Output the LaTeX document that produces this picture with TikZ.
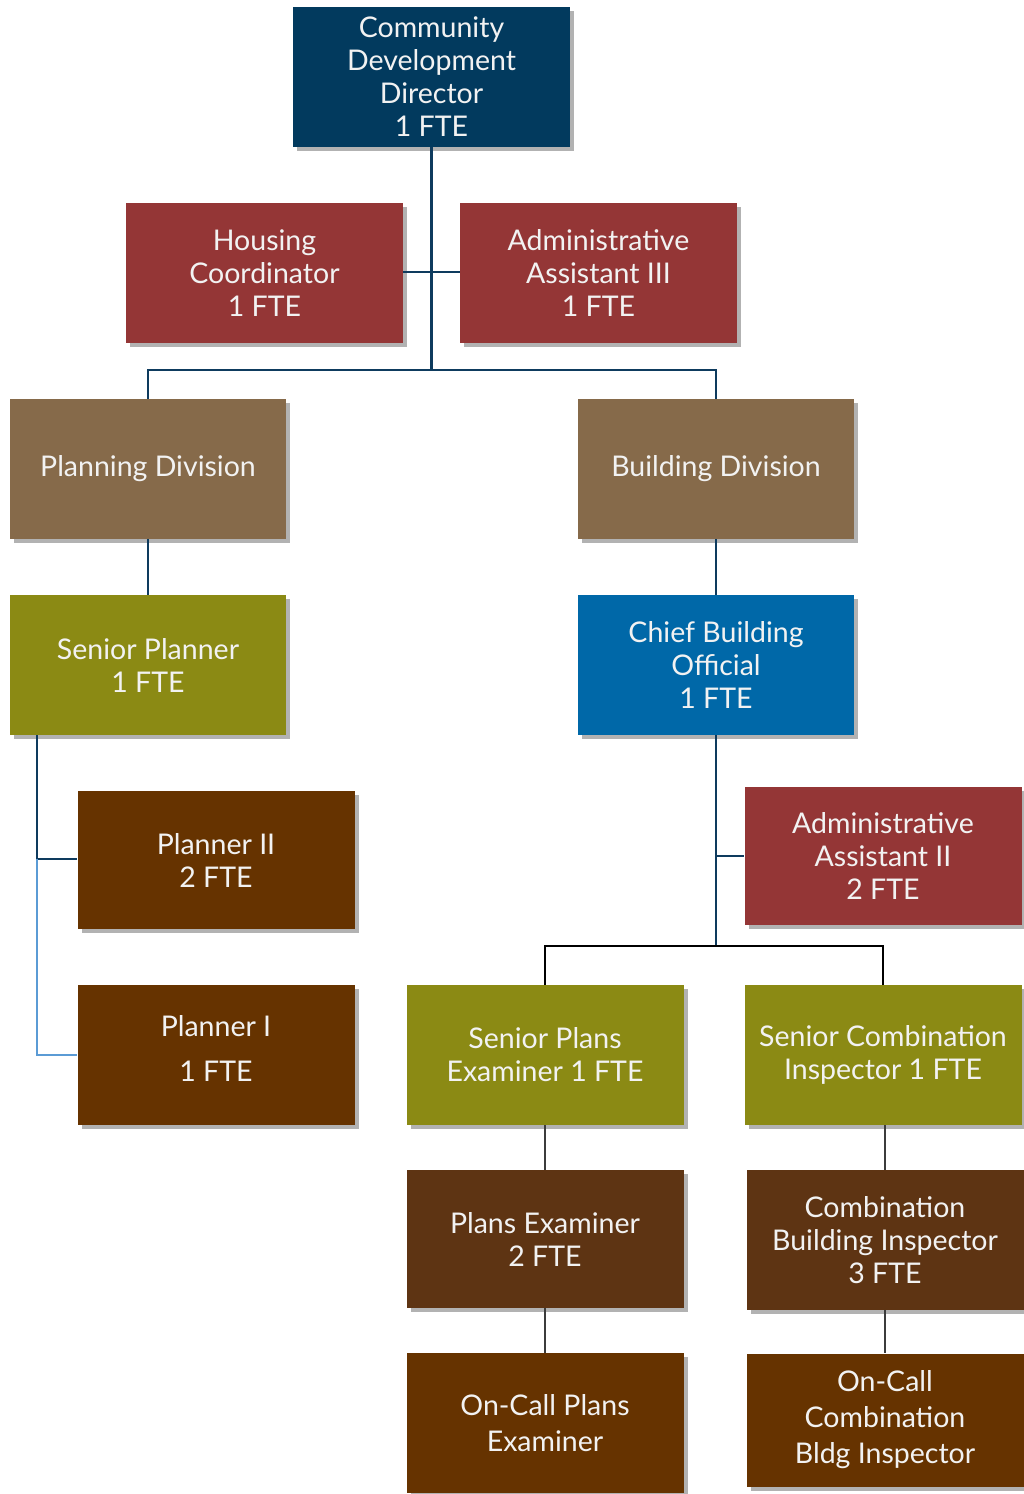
\documentclass[tikz,border=0pt]{standalone}
\usepackage{fontspec}
\setmainfont{Lato}
\usetikzlibrary{shadows}
\definecolor{navy}{RGB}{2,58,94}
\definecolor{brick}{RGB}{148,54,54}
\definecolor{tan}{RGB}{134,106,74}
\definecolor{olive}{RGB}{139,138,20}
\definecolor{azure}{RGB}{0,104,168}
\definecolor{rust}{RGB}{102,51,0}
\definecolor{umber}{RGB}{94,52,19}
\definecolor{linenavy}{RGB}{14,59,94}
\definecolor{lightlink}{RGB}{91,155,213}
\definecolor{linegray}{RGB}{60,60,60}
\definecolor{txt}{RGB}{242,242,242}
\tikzset{
  box/.style={rectangle, minimum width=277pt, minimum height=140pt, inner sep=0pt,
    text=txt, align=center, font=\fontsize{28.5}{33}\selectfont,
    drop shadow={shadow xshift=4pt, shadow yshift=-4pt, opacity=0.3, fill=black}},
  link/.style={draw=linenavy, line width=2.5pt},
  blink/.style={draw=black, line width=2.5pt},
  glink/.style={draw=linegray, line width=2.5pt}
}
\begin{document}
\begin{tikzpicture}[x=1pt,y=-1pt]
\useasboundingbox[fill=white] (0,0) rectangle (1024,1494);

% top of the chart
\node[box, fill=navy] (dir) at (431.5,77) {Community\\Development\\Director\\1 FTE};
\node[box, fill=brick] (hous) at (264.5,273) {Housing\\Coordinator\\1 FTE};
\node[box, fill=brick] (aa3) at (598.5,273) {Administrative\\Assistant III\\1 FTE};

% divisions
\node[box, fill=tan, minimum width=276pt] (plan) at (148,469) {Planning Division};
\node[box, fill=tan, minimum width=276pt] (bldg) at (716,469) {Building Division};

% planning branch
\node[box, fill=olive, minimum width=276pt] (sp) at (148,665) {Senior Planner\\1 FTE};
\node[box, fill=rust, minimum height=138pt] (p2) at (216,860) {Planner II\\2 FTE};
\node[box, fill=rust, minimum height=140pt] (p1) at (216,1055) {};
\node[text=txt, align=center, font=\fontsize{28.5}{33}\selectfont] (p1t) at (216,1048) {Planner I\\[12pt]1 FTE};

% building branch
\node[box, fill=azure, minimum width=276pt] (cbo) at (716,665) {Chief Building\\Official\\1 FTE};
\node[box, fill=brick, minimum height=138pt] (aa2) at (883,856) {Administrative\\Assistant II\\2 FTE};
\node[box, fill=olive] (spe) at (545,1055) {Senior Plans\\Examiner 1 FTE};
\node[box, fill=olive] (sci) at (883,1055) {Senior Combination\\Inspector 1 FTE};
\node[box, fill=umber, minimum height=138pt] (pe) at (545,1239) {Plans Examiner\\2 FTE};
\node[box, fill=umber] (cbi) at (885,1240) {Combination\\Building Inspector\\3 FTE};
\node[box, fill=rust] (ocpe) at (545,1423) {On-Call Plans\\[3pt]Examiner};
\node[box, fill=rust, minimum height=133pt] (occbi) at (885,1420) {On-Call\\[3pt]Combination\\[3pt]Bldg Inspector};

% junction points
\coordinate (topbar) at (431.5,370);
\coordinate (aabar) at (431.5,272);
\coordinate (spknee) at (37,735);
\coordinate (p2knee) at (37,859);
\coordinate (p1knee) at (37,1055);
\coordinate (aa2knee) at (716,856);
\coordinate (exbar) at (716,946);

% connectors
\draw[link] (dir.south) -- (topbar);
\draw[link] (hous.east |- aabar) -- (aa3.west |- aabar);
\draw[link] (plan.north) |- (topbar) -| (bldg.north);
\draw[link] (plan.south) -- (sp.north);
\draw[link] (bldg.south) -- (cbo.north);
\draw[link] (spknee) -- (p2knee) -- (p2.west |- p2knee);
\draw[draw=lightlink, line width=2.5pt] (p2knee) -- (p1knee) -- (p1.west |- p1knee);
\draw[link] (cbo.south) -- (exbar);
\draw[link] (aa2knee) -- (aa2.west |- aa2knee);
\draw[blink] (spe.north) |- (exbar) -| (sci.north);
\draw[glink] (spe.south) -- (pe.north);
\draw[glink] (pe.south) -- (ocpe.north);
\draw[glink] (sci.south -| cbi.north) -- (cbi.north);
\draw[glink] (cbi.south) -- (cbi.south |- occbi.north);
\end{tikzpicture}
\end{document}
